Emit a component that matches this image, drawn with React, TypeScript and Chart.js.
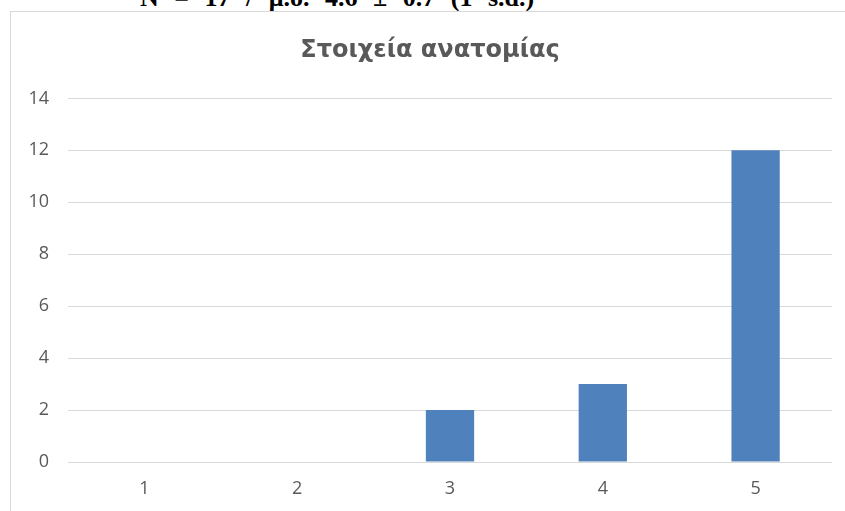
import React, { useEffect, useRef } from "react";
import { Chart, registerables } from "chart.js";

Chart.register(...registerables);

// Likert-style answers (1–5) and how many respondents picked each
const categories: string[] = ["1", "2", "3", "4", "5"];
const counts: number[] = [0, 0, 2, 3, 12];

const chartTitle = "Στοιχεία ανατομίας";
const summaryLine = "N = 17 / μ.ό. 4.6 ± 0.7 (1 s.d.)";

const yMin = 0;
const yMax = 14;
const yStep = 2;

const BAR_COLOR = "#4F81BD";
const GRID_COLOR = "#d9d9d9";
const TEXT_COLOR = "#595959";
const TICK_FONT = '"Open Sans", "Noto Sans", sans-serif';
const TITLE_FONT = '"DejaVu Sans", "Open Sans", sans-serif';

export default function App() {
  const canvasRef = useRef<HTMLCanvasElement | null>(null);

  useEffect(() => {
    const canvas = canvasRef.current;
    if (!canvas) return;
    const chart = new Chart(canvas, {
      type: "bar",
      data: {
        labels: categories,
        datasets: [
          {
            data: counts,
            backgroundColor: BAR_COLOR,
            borderWidth: 0,
            barPercentage: 0.316,
            categoryPercentage: 1,
          },
        ],
      },
      options: {
        responsive: false,
        animation: false,
        layout: { padding: { left: 28, right: 13, top: 0, bottom: 0 } },
        plugins: {
          legend: { display: false },
          tooltip: { enabled: false },
          title: {
            display: true,
            text: chartTitle,
            color: TEXT_COLOR,
            font: { family: TITLE_FONT, size: 24, weight: "bold", lineHeight: 1.2 },
            padding: { top: 36, bottom: 33.6 },
          },
        },
        scales: {
          x: {
            grid: { display: false, drawTicks: false },
            border: { display: false },
            ticks: {
              color: TEXT_COLOR,
              font: { family: TICK_FONT, size: 18 },
              padding: 16,
            },
            afterFit: (scale: any) => {
              scale.height = 49;
            },
          },
          y: {
            min: yMin,
            max: yMax,
            ticks: {
              stepSize: yStep,
              color: TEXT_COLOR,
              font: { family: TICK_FONT, size: 18 },
              padding: 19,
            },
            grid: { color: GRID_COLOR, lineWidth: 1, drawTicks: false },
            border: { display: false },
            afterFit: (scale: any) => {
              scale.width = 40;
            },
          },
        },
      },
    });
    return () => chart.destroy();
  }, []);

  return (
    <div
      style={{
        position: "absolute",
        left: 0,
        top: 0,
        width: 845,
        height: 511,
        overflow: "hidden",
        background: "#ffffff",
      }}
    >
      <div
        style={{
          position: "absolute",
          left: 140,
          top: -15,
          fontFamily: '"Liberation Serif", "Times New Roman", serif',
          fontWeight: 700,
          fontSize: 26,
          lineHeight: 1,
          wordSpacing: 9,
          whiteSpace: "nowrap",
          color: "#000",
        }}
      >
        {summaryLine}
      </div>
      <div
        style={{
          position: "absolute",
          left: 10,
          top: 11,
          width: 900,
          height: 600,
          border: `1px solid ${GRID_COLOR}`,
          boxSizing: "border-box",
        }}
      />
      <canvas
        ref={canvasRef}
        width={845}
        height={511}
        style={{ position: "absolute", left: 0, top: 0, width: 845, height: 511 }}
      />
    </div>
  );
}
